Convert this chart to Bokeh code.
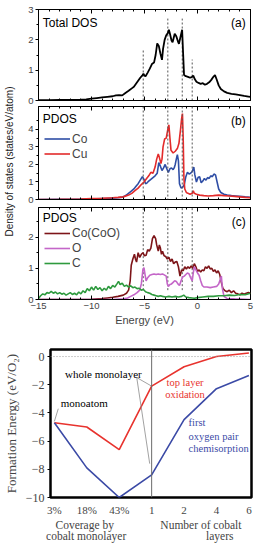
import math
from bokeh.plotting import figure
from bokeh.layouts import column, row
from bokeh.models import (Range1d, FixedTicker, LinearAxis, Label, Span, Legend,
                          LegendItem)
from bokeh.core.properties import value
from bokeh.embed import file_html
from bokeh.resources import INLINE

SANS = "Liberation Sans"
SERIF = "Liberation Serif"

# ---------------------------------------------------------------- DOS data
# (energy in eV, states/eV/atom)
total_dos = [
    (-15, 0.01), (-14, 0.01), (-13, 0.02), (-12, 0.02), (-11, 0.03), (-10.5, 0.04),
    (-10, 0.06), (-9.5, 0.08), (-9, 0.10), (-8.5, 0.12), (-8, 0.14), (-7.7, 0.17),
    (-7.4, 0.18), (-7.1, 0.17), (-6.8, 0.25), (-6.5, 0.32), (-6.2, 0.40), (-6.0, 0.45),
    (-5.8, 0.55), (-5.6, 0.65), (-5.4, 0.75), (-5.2, 0.83), (-5.1, 0.88), (-5.0, 0.82),
    (-4.9, 0.80), (-4.7, 0.92), (-4.5, 1.05), (-4.3, 1.20), (-4.1, 1.25), (-3.95, 1.50),
    (-3.8, 1.88), (-3.65, 1.80), (-3.5, 1.55), (-3.35, 1.34), (-3.25, 1.70), (-3.1, 2.00),
    (-2.95, 2.15), (-2.8, 2.22), (-2.7, 2.33), (-2.6, 2.20), (-2.45, 1.98), (-2.35, 1.92),
    (-2.15, 2.20), (-2.0, 2.12), (-1.85, 1.95), (-1.75, 1.87), (-1.6, 2.10), (-1.45, 2.33),
    (-1.35, 1.50), (-1.27, 0.84), (-1.1, 0.80), (-0.9, 0.78), (-0.7, 0.75), (-0.5, 0.78),
    (-0.4, 0.82), (-0.25, 0.70), (-0.1, 0.62), (0.1, 0.58), (0.3, 0.55), (0.5, 0.57),
    (0.7, 0.52), (0.9, 0.55), (1.1, 0.60), (1.3, 0.68), (1.5, 0.78), (1.65, 0.84),
    (1.8, 0.70), (2.0, 0.50), (2.2, 0.38), (2.5, 0.30), (2.8, 0.25), (3.2, 0.22),
    (3.6, 0.20), (4.0, 0.18), (4.4, 0.15), (4.8, 0.13), (5.0, 0.12),
]

co_pdos = [
    (-15, 0.0), (-13, 0.01), (-11, 0.02), (-10, 0.03), (-9, 0.05), (-8.5, 0.06),
    (-8, 0.08), (-7.5, 0.10), (-7.2, 0.12), (-6.9, 0.18), (-6.6, 0.30), (-6.3, 0.45),
    (-6.0, 0.60), (-5.8, 0.75), (-5.6, 0.90), (-5.4, 1.10), (-5.2, 1.30), (-5.05, 1.15),
    (-4.9, 0.90), (-4.75, 0.95), (-4.6, 1.05), (-4.4, 1.15), (-4.2, 1.25), (-4.0, 1.35),
    (-3.8, 1.50), (-3.65, 2.10), (-3.5, 1.90), (-3.35, 1.65), (-3.2, 1.80), (-3.05, 2.00),
    (-2.9, 1.75), (-2.75, 1.55), (-2.6, 1.75), (-2.45, 1.80), (-2.3, 1.70), (-2.2, 1.80),
    (-2.1, 2.00), (-2.0, 2.30), (-1.9, 2.55), (-1.8, 2.20), (-1.7, 0.90), (-1.55, 0.65),
    (-1.4, 0.70), (-1.25, 0.85), (-1.1, 1.30), (-0.95, 1.55), (-0.8, 1.45), (-0.65, 1.50),
    (-0.5, 1.60), (-0.35, 1.85), (-0.25, 1.40), (-0.1, 1.00), (0.05, 1.25), (0.2, 1.30),
    (0.35, 0.95), (0.5, 1.05), (0.65, 1.20), (0.8, 1.10), (0.95, 1.25), (1.1, 1.20),
    (1.25, 1.35), (1.4, 1.30), (1.55, 1.45), (1.7, 1.40), (1.85, 1.00), (2.0, 0.60),
    (2.2, 0.40), (2.5, 0.30), (2.8, 0.25), (3.2, 0.22), (3.6, 0.20), (4.0, 0.18),
    (4.5, 0.15), (5.0, 0.13),
]

cu_pdos = [
    (-15, 0.0), (-13, 0.01), (-11, 0.03), (-10, 0.05), (-9, 0.07), (-8, 0.10),
    (-7.5, 0.12), (-7, 0.15), (-6.5, 0.25), (-6.2, 0.35), (-5.9, 0.50), (-5.6, 0.65),
    (-5.3, 0.85), (-5.05, 1.00), (-4.8, 1.20), (-4.6, 1.35), (-4.4, 1.55), (-4.2, 1.50),
    (-4.0, 1.85), (-3.85, 2.30), (-3.7, 2.60), (-3.6, 2.40), (-3.45, 2.05), (-3.35, 2.30),
    (-3.25, 3.00), (-3.1, 3.45), (-2.95, 3.50), (-2.8, 4.00), (-2.7, 4.25), (-2.6, 3.50),
    (-2.5, 2.80), (-2.3, 2.65), (-2.1, 2.75), (-1.9, 2.90), (-1.75, 3.20), (-1.6, 4.00),
    (-1.5, 4.60), (-1.42, 4.90), (-1.35, 3.50), (-1.28, 1.20), (-1.2, 0.60), (-1.05, 0.40),
    (-0.9, 0.35), (-0.7, 0.30), (-0.5, 0.35), (-0.4, 0.50), (-0.3, 0.35), (-0.1, 0.30),
    (0.2, 0.25), (0.6, 0.22), (1.0, 0.20), (1.5, 0.22), (2.0, 0.25), (2.5, 0.22),
    (3.0, 0.20), (3.5, 0.18), (4.0, 0.15), (4.5, 0.12), (5.0, 0.10),
]

coo_co_pdos = [
    (-15, 0.0), (-12, 0.0), (-10, 0.01), (-9, 0.03), (-8.5, 0.05), (-8, 0.07),
    (-7.5, 0.10), (-7.0, 0.14), (-6.7, 0.20), (-6.5, 0.30), (-6.35, 0.60), (-6.25, 1.10),
    (-6.1, 1.30), (-5.95, 1.45), (-5.85, 1.30), (-5.75, 1.20), (-5.6, 1.50), (-5.45, 1.35),
    (-5.3, 1.45), (-5.15, 1.50), (-5.0, 1.40), (-4.85, 1.42), (-4.7, 1.60), (-4.55, 1.55),
    (-4.4, 1.65), (-4.25, 1.95), (-4.1, 2.05), (-3.95, 1.95), (-3.85, 1.75), (-3.7, 1.55),
    (-3.6, 1.75), (-3.5, 1.65), (-3.4, 1.45), (-3.3, 1.55), (-3.15, 1.40), (-3.0, 1.38),
    (-2.85, 1.30), (-2.7, 1.35), (-2.55, 1.22), (-2.4, 1.30), (-2.25, 1.15), (-2.1, 1.20),
    (-1.95, 1.22), (-1.8, 1.05), (-1.65, 0.75), (-1.5, 0.95), (-1.35, 0.92), (-1.2, 1.05),
    (-1.05, 0.98), (-0.9, 1.05), (-0.75, 1.00), (-0.6, 1.08), (-0.45, 1.00), (-0.3, 1.15),
    (-0.15, 1.05), (0.0, 0.90), (0.15, 0.95), (0.3, 0.88), (0.45, 0.95), (0.6, 0.92),
    (0.75, 1.05), (0.9, 1.00), (1.05, 1.08), (1.2, 0.98), (1.35, 1.00), (1.5, 0.90),
    (1.65, 0.95), (1.8, 0.85), (1.95, 0.92), (2.1, 0.80), (2.25, 0.55), (2.4, 0.35),
    (2.6, 0.28), (2.8, 0.25), (3.0, 0.30), (3.2, 0.22), (3.4, 0.28), (3.6, 0.20),
    (3.8, 0.18), (4.0, 0.15), (4.2, 0.20), (4.4, 0.17), (4.6, 0.20), (4.8, 0.22),
    (5.0, 0.20),
]

o_pdos = [
    (-15, 0.0), (-8, 0.0), (-7, 0.02), (-6.6, 0.05), (-6.3, 0.10), (-6.0, 0.15),
    (-5.7, 0.22), (-5.45, 0.30), (-5.3, 0.50), (-5.15, 0.95), (-5.05, 1.02), (-4.95, 0.80),
    (-4.85, 0.60), (-4.7, 0.70), (-4.5, 0.78), (-4.3, 0.80), (-4.1, 0.82), (-3.9, 0.80),
    (-3.7, 0.82), (-3.5, 0.80), (-3.3, 0.82), (-3.1, 0.78), (-2.95, 0.75), (-2.85, 0.50),
    (-2.75, 0.42), (-2.6, 0.48), (-2.45, 0.50), (-2.3, 0.55), (-2.15, 0.60), (-2.0, 0.58),
    (-1.85, 0.50), (-1.7, 0.45), (-1.55, 0.60), (-1.4, 0.72), (-1.25, 0.75), (-1.1, 0.80),
    (-0.95, 0.85), (-0.8, 0.82), (-0.65, 0.70), (-0.5, 0.60), (-0.4, 0.85), (-0.3, 1.05),
    (-0.15, 0.95), (0.0, 0.85), (0.15, 0.78), (0.3, 0.60), (0.45, 0.45), (0.6, 0.40),
    (0.9, 0.40), (1.2, 0.38), (1.5, 0.40), (1.8, 0.42), (2.0, 0.50), (2.15, 0.65),
    (2.25, 0.75), (2.35, 0.35), (2.5, 0.10), (2.8, 0.03), (3.5, 0.02), (5.0, 0.0),
]

c_pdos = [
    (-15, 0.03), (-14.8, 0.12), (-14.6, 0.18), (-14.4, 0.15), (-14.2, 0.22), (-14.0, 0.20),
    (-13.8, 0.26), (-13.6, 0.20), (-13.4, 0.24), (-13.2, 0.18), (-13.0, 0.22), (-12.8, 0.17),
    (-12.6, 0.20), (-12.4, 0.14), (-12.2, 0.18), (-12.0, 0.22), (-11.8, 0.16), (-11.6, 0.20),
    (-11.4, 0.15), (-11.2, 0.24), (-11.0, 0.18), (-10.8, 0.28), (-10.6, 0.22), (-10.4, 0.35),
    (-10.2, 0.28), (-10.0, 0.40), (-9.8, 0.30), (-9.6, 0.42), (-9.4, 0.32), (-9.2, 0.38),
    (-9.0, 0.28), (-8.8, 0.36), (-8.6, 0.30), (-8.4, 0.42), (-8.2, 0.35), (-8.0, 0.45),
    (-7.8, 0.40), (-7.6, 0.50), (-7.45, 0.58), (-7.3, 0.48), (-7.1, 0.52), (-6.9, 0.42),
    (-6.7, 0.46), (-6.5, 0.40), (-6.3, 0.44), (-6.1, 0.38), (-5.9, 0.40), (-5.7, 0.35),
    (-5.5, 0.36), (-5.3, 0.30), (-5.1, 0.32), (-4.9, 0.25), (-4.7, 0.22), (-4.5, 0.20),
    (-4.3, 0.16), (-4.1, 0.14), (-3.9, 0.12), (-3.7, 0.10), (-3.5, 0.12), (-3.3, 0.10),
    (-3.0, 0.08), (-2.7, 0.10), (-2.4, 0.08), (-2.1, 0.10), (-1.8, 0.08), (-1.5, 0.10),
    (-1.3, 0.14), (-1.1, 0.08), (-0.8, 0.06), (-0.5, 0.05), (-0.3, 0.04), (0.0, 0.06),
    (0.5, 0.08), (1.0, 0.10), (1.5, 0.10), (2.0, 0.12), (2.5, 0.12), (3.0, 0.14),
    (3.5, 0.13), (4.0, 0.16), (4.5, 0.15), (5.0, 0.20),
]

# dashed guide energies and how high each reaches in the total-DOS panel
ref_energies = [-5.12, -2.8, -1.44, -0.5]
ref_tops_total = [1.68, 2.7, 2.7, 1.35]

# ---------------------------------------------------- formation energy data
stage_labels = ["3%", "18%", "43%", "1", "2", "4", "6"]
top_layer_oxidation = [-4.7, -5.0, -6.6, -2.1, -0.72, 0.0, 0.25]
first_pair_chemisorption = [-4.7, -7.9, -10.0, -8.4, -4.48, -2.28, -1.35]

C_CO, C_CU = "#2f4ea5", "#e32b2b"
C_COO, C_O, C_C = "#7d1418", "#c466c8", "#2e9a3e"
C_RED, C_BLUE = "#e8332e", "#3b4aa6"


def xy(pairs):
    return [p[0] for p in pairs], [p[1] for p in pairs]


def hide_labels(axis):
    axis.major_label_text_font_size = "0px"
    axis.major_label_text_color = None
    axis.major_label_standoff = 0


def dos_panel(height, ymax, yticks, top, bottom, labelled_x):
    p = figure(width=234, height=height, x_range=Range1d(-15, 5), y_range=Range1d(0, ymax),
               min_border_left=18, min_border_right=4, min_border_top=top,
               min_border_bottom=bottom, toolbar_location=None, output_backend="svg")
    p.grid.visible = False
    p.outline_line_color = "black"
    p.outline_line_width = 1
    xt = FixedTicker(ticks=[-15, -10, -5, 0, 5], minor_ticks=list(range(-15, 6)))
    yt = FixedTicker(ticks=yticks, minor_ticks=[t + 0.5 for t in yticks])
    ax = p.xaxis[0]
    ax.ticker = xt
    ax.major_tick_in, ax.major_tick_out = 4, 0
    ax.minor_tick_in, ax.minor_tick_out = 2, 0
    if labelled_x:
        ax.major_label_text_font = SANS
        ax.major_label_text_font_size = "9.5px"
        ax.major_label_standoff = 3
        ax.axis_label = "Energy (eV)"
        ax.axis_label_text_font = SANS
        ax.axis_label_text_font_size = "11px"
        ax.axis_label_text_font_style = "normal"
        ax.axis_label_standoff = 2
    else:
        hide_labels(ax)
    topax = LinearAxis(ticker=xt, major_tick_in=4, major_tick_out=0,
                       minor_tick_in=2, minor_tick_out=0)
    hide_labels(topax)
    p.add_layout(topax, "above")
    ay = p.yaxis[0]
    ay.ticker = yt
    ay.major_tick_in, ay.major_tick_out = 0, 3
    ay.minor_tick_in, ay.minor_tick_out = 0, 2
    ay.major_label_text_font = SANS
    ay.major_label_text_font_size = "9.5px"
    ay.major_label_standoff = 2
    return p


def corner_text(p, x, y, text, align="left"):
    p.add_layout(Label(x=x, y=y, text=text, text_font=SANS, text_font_size="12px",
                       text_align=align, text_baseline="middle", text_color="black"))


def legend(p, items, y, h, gap):
    lg = Legend(items=[LegendItem(label=t, renderers=[r]) for t, r in items],
                location=(6, y), padding=0, margin=0, spacing=gap, glyph_width=26,
                glyph_height=h, label_height=h, label_standoff=2,
                label_text_font=SANS, label_text_font_size="12px",
                background_fill_alpha=0, border_line_color=None)
    p.add_layout(lg)


# ---- (a) total DOS
pa = dos_panel(105, 3, [0, 1, 2, 3], 9, 5, False)
pa.segment(x0=ref_energies, y0=[0] * 4, x1=ref_energies, y1=ref_tops_total,
           line_color="#555555", line_dash="2 2", line_width=1)
ex, ey = xy(total_dos)
pa.line(ex, ey, line_color="black", line_width=1.8)
corner_text(pa, -14.6, 2.57, "Total DOS")
corner_text(pa, 4.55, 2.55, "(a)", "right")

# ---- (b) Co / Cu projected DOS
pb = dos_panel(99, 5.3, [0, 1, 2, 3, 4], 1, 5, False)
for e in ref_energies:
    pb.add_layout(Span(location=e, dimension="height", line_color="#555555",
                       line_dash="2 2", line_width=1))
ex, ey = xy(co_pdos)
r_co = pb.line(ex, ey, line_color=C_CO, line_width=1.6)
ex, ey = xy(cu_pdos)
r_cu = pb.line(ex, ey, line_color=C_CU, line_width=1.6)
corner_text(pb, -14.6, 4.6, "PDOS")
corner_text(pb, 4.55, 4.45, "(b)", "right")
legend(pb, [("Co", r_co), ("Cu", r_cu)], 38, 15, 0)

# ---- (c) CoO / C projected DOS
pc = dos_panel(135, 2.95, [0, 1, 2], 3, 40, True)
pc.segment(x0=ref_energies, y0=[0.3] * 4, x1=ref_energies, y1=[2.95] * 4,
           line_color="#555555", line_dash="2 2", line_width=1)
ex, ey = xy(coo_co_pdos)
r_coo = pc.line(ex, ey, line_color=C_COO, line_width=1.6)
ex, ey = xy(o_pdos)
r_o = pc.line(ex, ey, line_color=C_O, line_width=1.6)
ex, ey = xy(c_pdos)
r_c = pc.line(ex, ey, line_color=C_C, line_width=1.6)
corner_text(pc, -14.6, 2.61, "PDOS")
corner_text(pc, 4.55, 2.5, "(c)", "right")
legend(pc, [("Co(CoO)", r_coo), ("O", r_o), ("C", r_c)], 29, 14, 1)

# shared y title for the three DOS panels
ylab = figure(width=20, height=339, x_range=Range1d(0, 20), y_range=Range1d(0, 339),
              min_border=0, toolbar_location=None, output_backend="svg")
ylab.axis.visible = False
ylab.grid.visible = False
ylab.outline_line_color = None
ylab.text(x=[9], y=[178], text=["Density of states (states/eV/atom)"], angle=math.pi / 2,
          text_align="center", text_baseline="middle", text_font=value(SANS),
          text_font_size="10px", text_color="#222222")

# ---- formation energy panel
stages = list(range(len(stage_labels)))
pd = figure(width=254, height=205, x_range=Range1d(-0.12, 6.08), y_range=Range1d(-10, 0.5),
            min_border_left=42, min_border_right=3, min_border_top=10, min_border_bottom=45,
            toolbar_location=None, output_backend="svg")
pd.grid.visible = False
pd.outline_line_color = "black"
pd.outline_line_width = 2.5
pd.add_layout(Span(location=0, dimension="width", line_color="#9a9a9a",
                   line_dash="1 2", line_width=1))
pd.add_layout(Span(location=3, dimension="height", line_color="#6a6a6a", line_width=1))

pd.line(stages, top_layer_oxidation, line_color=C_RED, line_width=1.6)
pd.line(stages, first_pair_chemisorption, line_color=C_BLUE, line_width=1.6)

# leader lines for the callouts
pd.segment(x0=[2.54, 2.54, 0.12], y0=[-1.49, -1.49, -3.7], x1=[3.0, 2.94, 0.0],
           y1=[-2.1, -7.6, -4.6], line_color="#8a8a8a", line_width=0.8)

xa = pd.xaxis[0]
xa.ticker = FixedTicker(ticks=stages)
xa.major_label_overrides = {s: t for s, t in zip(stages, stage_labels)}
xa.major_label_text_font = SERIF
xa.major_label_text_font_size = "11px"
xa.major_tick_in, xa.major_tick_out = 0, 0
xa.minor_tick_in, xa.minor_tick_out = 0, 0
xa.major_label_standoff = 6
xa.axis_line_color = None

# two-line group captions under the stage labels
caption_rows = [
    ({0.98: "Coverage  by", 4.52: "Number of cobalt"}, 0),
    ({0.98: "cobalt monolayer", 5.1: "layers"}, -4),
]
for caps, gap in caption_rows:
    cap_axis = LinearAxis(ticker=FixedTicker(ticks=list(caps.keys()), minor_ticks=[]),
                          major_label_overrides=caps, major_label_text_font=SERIF,
                          major_label_text_font_size="11.5px", major_label_standoff=gap,
                          major_tick_in=0, major_tick_out=0, minor_tick_in=0,
                          minor_tick_out=0, axis_line_color=None)
    pd.add_layout(cap_axis, "below")

ya = pd.yaxis[0]
ya.ticker = FixedTicker(ticks=[0, -2, -4, -6, -8, -10])
ya.major_label_text_font = SERIF
ya.major_label_text_font_size = "12px"
ya.major_tick_in, ya.major_tick_out = 0, 3
ya.minor_tick_in, ya.minor_tick_out = 0, 0
ya.major_label_standoff = 3
ya.axis_line_color = None
ya.axis_label = "Formation Energy (eV/O\u2082)"
ya.axis_label_text_font = SERIF
ya.axis_label_text_font_size = "13px"
ya.axis_label_text_font_style = "normal"
ya.axis_label_standoff = 4


def note(x, y, text, color="black", align="center", size="11px"):
    pd.add_layout(Label(x=x, y=y, text=text, text_font=SERIF, text_font_size=size,
                        text_color=color, text_align=align, text_baseline="middle"))


note(1.51, -1.26, "whole monolayer")
note(0.92, -3.31, "monoatom")
note(4.03, -1.86, "top layer", C_RED, size="10.5px")
note(4.03, -2.66, "oxidation", C_RED, size="10.5px")
note(4.14, -4.7, "first", C_BLUE, "left", "10.5px")
note(4.14, -5.64, "oxygen pair", C_BLUE, "left", "10.5px")
note(4.14, -6.5, "chemisorption", C_BLUE, "left", "10.5px")

layout = column(row(ylab, column(pa, pb, pc)), pd)
open("out.html", "w").write(file_html(layout, INLINE))
